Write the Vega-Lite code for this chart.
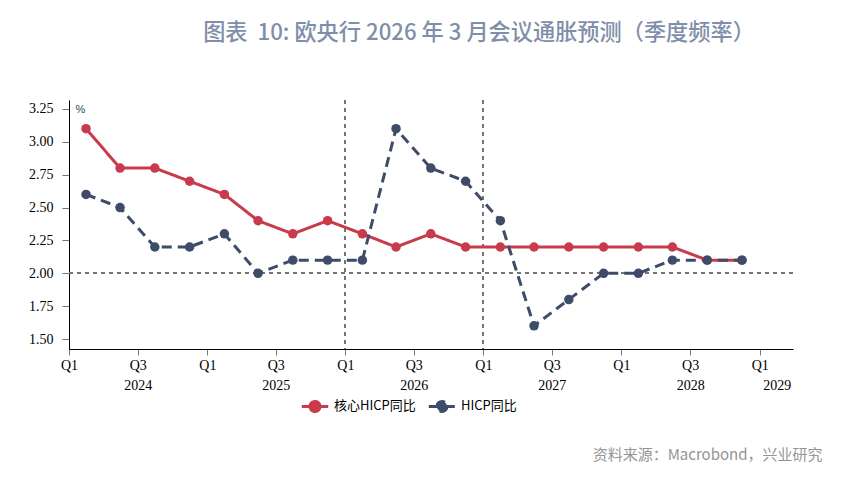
{
  "$schema": "https://vega.github.io/schema/vega-lite/v6.json",
  "width": 724,
  "height": 249,
  "autosize": {"type": "none"},
  "padding": {"left": 69, "top": 100, "right": 56, "bottom": 133},
  "background": "white",
  "title": {
    "text": "图表 \u00a010: 欧央行 2026 年 3 月会议通胀预测（季度频率）",
    "font": "Noto Sans CJK SC",
    "fontSize": 22.2,
    "fontWeight": 500,
    "color": "#7F8FA9",
    "anchor": "middle",
    "dx": 48,
    "offset": 55
  },
  "config": {
    "view": {"stroke": null},
    "axis": {
      "labelFont": "Liberation Serif",
      "labelFontSize": 14,
      "labelColor": "#000",
      "domainColor": "#000",
      "tickColor": "#777",
      "grid": false
    }
  },
  "data": {
    "values": [
      {"date": "2024-02-15", "series": "核心HICP同比", "value": 3.1},
      {"date": "2024-05-15", "series": "核心HICP同比", "value": 2.8},
      {"date": "2024-08-15", "series": "核心HICP同比", "value": 2.8},
      {"date": "2024-11-15", "series": "核心HICP同比", "value": 2.7},
      {"date": "2025-02-15", "series": "核心HICP同比", "value": 2.6},
      {"date": "2025-05-15", "series": "核心HICP同比", "value": 2.4},
      {"date": "2025-08-15", "series": "核心HICP同比", "value": 2.3},
      {"date": "2025-11-15", "series": "核心HICP同比", "value": 2.4},
      {"date": "2026-02-15", "series": "核心HICP同比", "value": 2.3},
      {"date": "2026-05-15", "series": "核心HICP同比", "value": 2.2},
      {"date": "2026-08-15", "series": "核心HICP同比", "value": 2.3},
      {"date": "2026-11-15", "series": "核心HICP同比", "value": 2.2},
      {"date": "2027-02-15", "series": "核心HICP同比", "value": 2.2},
      {"date": "2027-05-15", "series": "核心HICP同比", "value": 2.2},
      {"date": "2027-08-15", "series": "核心HICP同比", "value": 2.2},
      {"date": "2027-11-15", "series": "核心HICP同比", "value": 2.2},
      {"date": "2028-02-15", "series": "核心HICP同比", "value": 2.2},
      {"date": "2028-05-15", "series": "核心HICP同比", "value": 2.2},
      {"date": "2028-08-15", "series": "核心HICP同比", "value": 2.1},
      {"date": "2028-11-15", "series": "核心HICP同比", "value": 2.1},
      {"date": "2024-02-15", "series": "HICP同比", "value": 2.6},
      {"date": "2024-05-15", "series": "HICP同比", "value": 2.5},
      {"date": "2024-08-15", "series": "HICP同比", "value": 2.2},
      {"date": "2024-11-15", "series": "HICP同比", "value": 2.2},
      {"date": "2025-02-15", "series": "HICP同比", "value": 2.3},
      {"date": "2025-05-15", "series": "HICP同比", "value": 2.0},
      {"date": "2025-08-15", "series": "HICP同比", "value": 2.1},
      {"date": "2025-11-15", "series": "HICP同比", "value": 2.1},
      {"date": "2026-02-15", "series": "HICP同比", "value": 2.1},
      {"date": "2026-05-15", "series": "HICP同比", "value": 3.1},
      {"date": "2026-08-15", "series": "HICP同比", "value": 2.8},
      {"date": "2026-11-15", "series": "HICP同比", "value": 2.7},
      {"date": "2027-02-15", "series": "HICP同比", "value": 2.4},
      {"date": "2027-05-15", "series": "HICP同比", "value": 1.6},
      {"date": "2027-08-15", "series": "HICP同比", "value": 1.8},
      {"date": "2027-11-15", "series": "HICP同比", "value": 2.0},
      {"date": "2028-02-15", "series": "HICP同比", "value": 2.0},
      {"date": "2028-05-15", "series": "HICP同比", "value": 2.1},
      {"date": "2028-08-15", "series": "HICP同比", "value": 2.1},
      {"date": "2028-11-15", "series": "HICP同比", "value": 2.1}
    ]
  },
  "layer": [
    {
      "mark": {"type": "rule", "strokeDash": [4, 4], "color": "#777", "strokeWidth": 1},
      "encoding": {
        "y": {
          "datum": 2.0,
          "type": "quantitative",
          "scale": {"domain": [1.424, 3.318], "zero": false, "nice": false},
          "axis": {
            "title": "%",
            "titleAngle": 0,
            "titleX": 6,
            "titleY": 9,
            "titleAlign": "left",
            "titleBaseline": "middle",
            "titleFont": "Liberation Sans",
            "titleFontSize": 11,
            "titleFontWeight": "normal",
            "titleColor": "#1F4A66",
            "values": [1.5, 1.75, 2.0, 2.25, 2.5, 2.75, 3.0, 3.25],
            "format": ".2f",
            "tickSize": 7,
            "labelPadding": 9,
            "labelOverlap": false
          }
        }
      }
    },
    {
      "mark": {"type": "rule", "strokeDash": [4, 4], "color": "#777", "strokeWidth": 1},
      "encoding": {"x": {"datum": {"year": 2026, "month": 1, "date": 1, "utc": true}, "type": "temporal", "axis": null}}
    },
    {
      "mark": {"type": "rule", "strokeDash": [4, 4], "color": "#777", "strokeWidth": 1},
      "encoding": {"x": {"datum": {"year": 2027, "month": 1, "date": 1, "utc": true}, "type": "temporal", "axis": null}}
    },
    {
      "mark": {"type": "line", "strokeWidth": 3},
      "encoding": {
        "x": {
          "field": "date",
          "type": "temporal",
          "scale": {"type": "utc", "domain": [{"year": 2024, "month": 1, "date": 1, "utc": true}, {"year": 2029, "month": 3, "date": 30, "utc": true}]},
          "axis": {
            "orient": "bottom",
            "title": null,
            "values": [
              {"year": 2024, "month": 1, "date": 1, "utc": true},
              {"year": 2024, "month": 7, "date": 1, "utc": true},
              {"year": 2025, "month": 1, "date": 1, "utc": true},
              {"year": 2025, "month": 7, "date": 1, "utc": true},
              {"year": 2026, "month": 1, "date": 1, "utc": true},
              {"year": 2026, "month": 7, "date": 1, "utc": true},
              {"year": 2027, "month": 1, "date": 1, "utc": true},
              {"year": 2027, "month": 7, "date": 1, "utc": true},
              {"year": 2028, "month": 1, "date": 1, "utc": true},
              {"year": 2028, "month": 7, "date": 1, "utc": true},
              {"year": 2029, "month": 1, "date": 1, "utc": true}
            ],
            "labelExpr": "utcmonth(datum.value) == 0 ? 'Q1' : 'Q3'",
            "tickSize": 6,
            "labelPadding": 3,
            "labelFlush": false,
            "labelOverlap": false
          }
        },
        "y": {
          "field": "value",
          "type": "quantitative",
          "axis": {
            "title": "%",
            "values": [1.5, 1.75, 2.0, 2.25, 2.5, 2.75, 3.0, 3.25],
            "format": ".2f",
            "labelOverlap": false
          }
        },
        "color": {
          "field": "series",
          "type": "nominal",
          "scale": {"domain": ["核心HICP同比", "HICP同比"], "range": ["#C93A4C", "#3E4C69"]},
          "legend": {
            "title": null,
            "orient": "none",
            "direction": "horizontal",
            "legendX": 231,
            "legendY": 291,
            "symbolType": "M-1,0L1,0M0.38,0A0.38,0.38,0,1,1,-0.38,0A0.38,0.38,0,1,1,0.38,0Z",
            "symbolSize": 700,
            "symbolStrokeWidth": 3,
            "labelFont": "Noto Sans CJK SC",
            "labelFontSize": 13,
            "labelColor": "#000",
            "columnPadding": 6
          }
        },
        "strokeDash": {
          "field": "series",
          "type": "nominal",
          "scale": {"domain": ["核心HICP同比", "HICP同比"], "range": [[1, 0], [10, 6]]},
          "legend": null
        }
      }
    },
    {
      "mark": {"type": "point", "filled": true, "size": 90, "opacity": 1},
      "encoding": {
        "x": {
          "field": "date",
          "type": "temporal",
          "axis": {
            "orient": "bottom",
            "offset": 27,
            "title": "资料来源：Macrobond，兴业研究",
            "titleFont": "Noto Sans CJK SC",
            "titleFontSize": 15,
            "titleFontWeight": "normal",
            "titleColor": "#959595",
            "titleAnchor": "end",
            "titleAlign": "right",
            "titleBaseline": "middle",
            "titleX": 753,
            "titleY": 78,
            "values": [
              {"year": 2024, "month": 7, "date": 1, "utc": true},
              {"year": 2025, "month": 7, "date": 1, "utc": true},
              {"year": 2026, "month": 7, "date": 1, "utc": true},
              {"year": 2027, "month": 7, "date": 1, "utc": true},
              {"year": 2028, "month": 7, "date": 1, "utc": true},
              {"year": 2029, "month": 2, "date": 15, "utc": true}
            ],
            "labelExpr": "'' + utcyear(datum.value)",
            "domain": false,
            "ticks": false,
            "labelPadding": 2,
            "labelFlush": false,
            "labelOverlap": false
          }
        },
        "y": {
          "field": "value",
          "type": "quantitative",
          "axis": {
            "title": "%",
            "values": [1.5, 1.75, 2.0, 2.25, 2.5, 2.75, 3.0, 3.25],
            "format": ".2f",
            "labelOverlap": false
          }
        },
        "color": {"field": "series", "type": "nominal"}
      }
    }
  ],
  "resolve": {"axis": {"x": "independent"}}
}
